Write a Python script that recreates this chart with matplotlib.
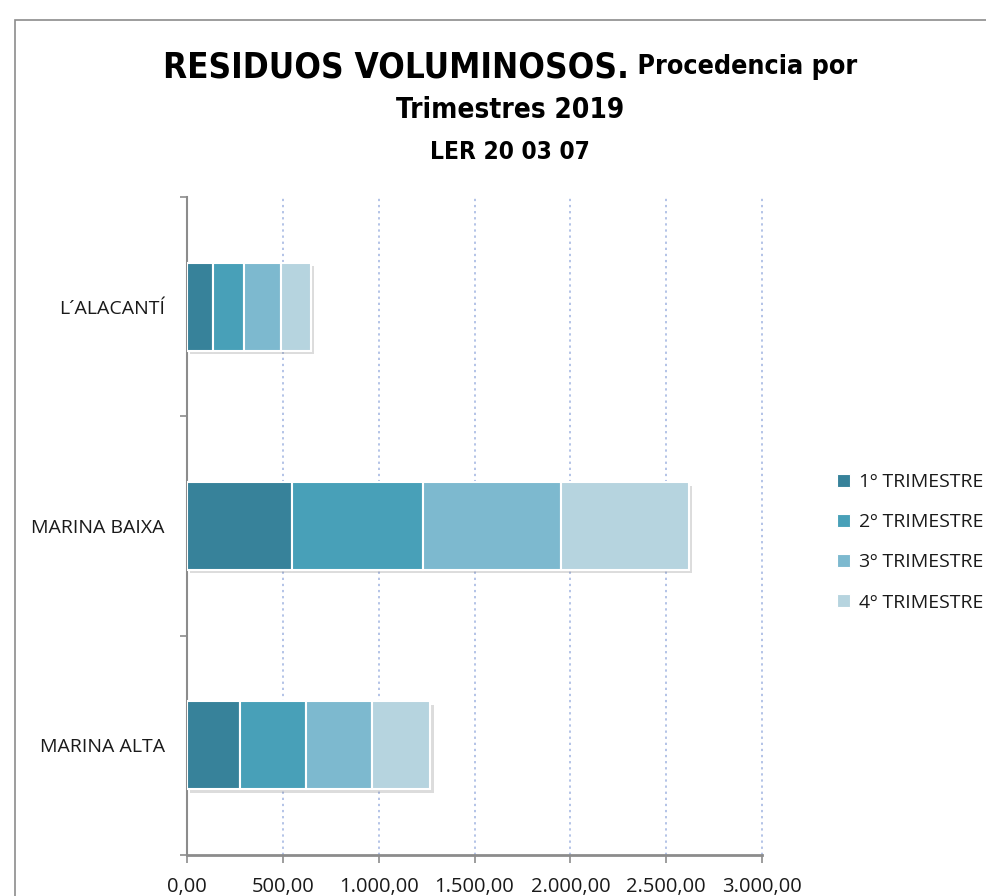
import matplotlib
matplotlib.use("Agg")
import matplotlib.pyplot as plt
from matplotlib import font_manager
from matplotlib.patches import Rectangle
from matplotlib.ticker import FuncFormatter, FixedLocator
import matplotlib.patheffects as pe

# data
comarcas = ["MARINA ALTA", "MARINA BAIXA", "L´ALACANTÍ"]
trimestres = ["1º TRIMESTRE", "2º TRIMESTRE", "3º TRIMESTRE", "4º TRIMESTRE"]
t1 = [277, 548, 136]
t2 = [344, 683, 161]
t3 = [344, 720, 193]
t4 = [303, 668, 157]
colores = ["#37829A", "#48A0B8", "#7DB9CF", "#B6D4DF"]

names = {f.name for f in font_manager.fontManager.ttflist}
label_font = "Open Sans" if "Open Sans" in names else "DejaVu Sans"
plt.rcParams["font.family"] = label_font
# narrow bold face for the title (Calibri-like look)
title_kw = dict(family="DejaVu Sans", fontstretch="condensed", fontweight="bold")

fig = plt.figure(figsize=(9.87, 8.96), dpi=100)
W, H = 987, 896

# chart frame
fig.add_artist(Rectangle((15 / W, -0.1), 1.2, 1 - 20 / H + 0.1, transform=fig.transFigure,
                         fill=False, edgecolor="#8C8C8C", linewidth=1.2, clip_on=False))

ax = fig.add_axes([187 / W, (H - 855) / H, (762 - 187) / W, (855 - 197) / H])

shadow = [pe.SimplePatchShadow(offset=(2.5, -2.5), shadow_rgbFace="#777777", alpha=0.25),
          pe.Normal()]
left = [0, 0, 0]
for serie, color, name in zip([t1, t2, t3, t4], colores, trimestres):
    ax.barh(range(len(comarcas)), serie, left=left, height=0.4, color=color,
            edgecolor="white", linewidth=1.5, zorder=3, path_effects=shadow)
    left = [a + b for a, b in zip(left, serie)]

ax.set_xlim(0, 3000)
ax.set_ylim(-0.5, 2.5)
ax.set_xticks(range(0, 3001, 500))
ax.xaxis.set_major_formatter(FuncFormatter(
    lambda v, p: f"{v:,.2f}".replace(",", "X").replace(".", ",").replace("X", ".")))
for xv in range(500, 3001, 500):
    ax.axvline(xv, color="#9FB3E0", linestyle=(0, (1.5, 2.5)), linewidth=1.1, zorder=1,
               clip_on=False)

ax.set_yticks(range(len(comarcas)))
ax.set_yticklabels(comarcas)
ax.yaxis.set_minor_locator(FixedLocator([-0.5, 0.5, 1.5, 2.5]))
ax.tick_params(axis="y", which="major", length=0, pad=16, labelsize=14, labelcolor="#1A1A1A")
ax.tick_params(axis="y", which="minor", length=5, color="#8C8C8C", width=1.2)
ax.tick_params(axis="x", length=6, color="#8C8C8C", width=1.2, pad=10, labelsize=14.5,
               labelcolor="#1A1A1A")

for s in ["top", "right"]:
    ax.spines[s].set_visible(False)
ax.spines["left"].set_color("#8C8C8C")
ax.spines["left"].set_linewidth(1.5)
ax.spines["bottom"].set_color("#8C8C8C")
ax.spines["bottom"].set_linewidth(2)

handles = [Rectangle((0, 0), 1, 1, facecolor=c, edgecolor="white", linewidth=0.8) for c in colores]
leg = fig.legend(handles, trimestres, loc="upper left", bbox_to_anchor=(837 / W, 1 - 473 / H),
                 frameon=False, fontsize=14, handlelength=0.65, handleheight=0.65,
                 handletextpad=0.5, labelspacing=1.14, borderaxespad=0, borderpad=0)
for t in leg.get_texts():
    t.set_color("#1A1A1A")

# title: mixed sizes on first line, scaled to the reference width
fig.canvas.draw()
r = fig.canvas.get_renderer()
p1 = fig.text(0, 1 - 67 / H, "RESIDUOS VOLUMINOSOS.", fontsize=30, va="center", **title_kw)
p2 = fig.text(0, 1 - 67 / H, " Procedencia por", fontsize=23, va="center", **title_kw)
w = p1.get_window_extent(r).width + p2.get_window_extent(r).width
k = 694 / w
p1.set_fontsize(30 * k)
p2.set_fontsize(23 * k)
w1 = p1.get_window_extent(r).width
w2 = p2.get_window_extent(r).width
x0 = (510 - (w1 + w2) / 2) / W
p1.set_x(x0)
p2.set_x(x0 + w1 / W)
fig.text(510 / W, 1 - 110 / H, "Trimestres 2019", fontsize=24 * k,
         ha="center", va="center", **title_kw)
fig.text(510 / W, 1 - 152 / H, "LER 20 03 07", fontsize=21 * k,
         ha="center", va="center", **title_kw)

fig.savefig("out.png", dpi=100)
